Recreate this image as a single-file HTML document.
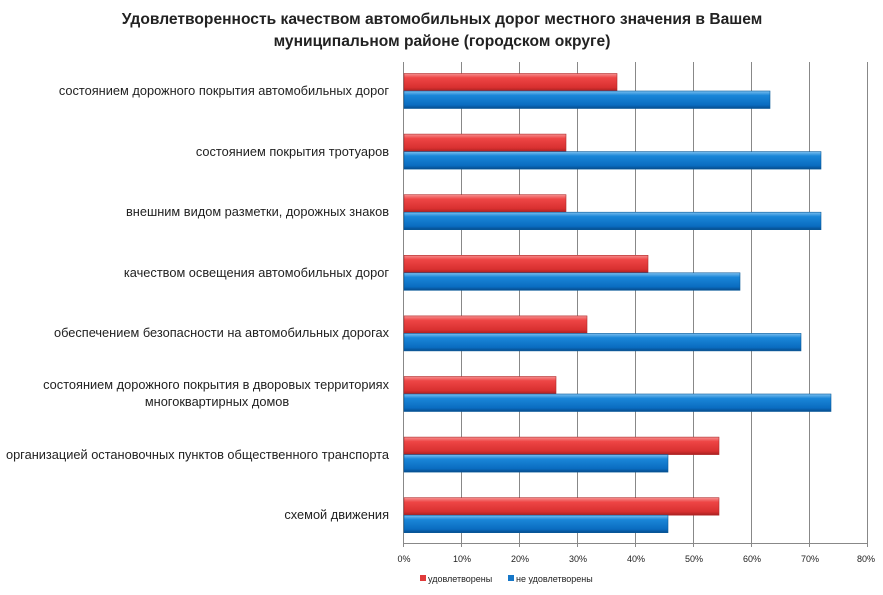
<!DOCTYPE html>
<html><head><meta charset="utf-8"><style>
body{margin:0;background:#fff;width:883px;height:590px;overflow:hidden;font-family:"Liberation Sans",sans-serif;}
</style></head><body>
<svg width="883" height="590" xmlns="http://www.w3.org/2000/svg" font-family="Liberation Sans, sans-serif">
<defs>
<linearGradient id="r" x1="0" y1="0" x2="0" y2="1"><stop offset="0" stop-color="#f59090"/><stop offset="0.25" stop-color="#ee4545"/><stop offset="0.8" stop-color="#d83030"/><stop offset="1" stop-color="#a82020"/></linearGradient>
<linearGradient id="b" x1="0" y1="0" x2="0" y2="1"><stop offset="0" stop-color="#7cc0f0"/><stop offset="0.25" stop-color="#1a86d8"/><stop offset="0.8" stop-color="#0a6cc0"/><stop offset="1" stop-color="#064c8c"/></linearGradient>
</defs>
<text x="442" y="24" text-anchor="middle" font-size="15.6" font-weight="bold" fill="#222">Удовлетворенность качеством автомобильных дорог местного значения в Вашем</text>
<text x="442" y="46" text-anchor="middle" font-size="15.6" font-weight="bold" fill="#222">муниципальном районе (городском округе)</text>
<g stroke="#888" stroke-width="1">
<line x1="403.5" y1="62" x2="403.5" y2="547"/>
<line x1="461.5" y1="62" x2="461.5" y2="547"/>
<line x1="519.5" y1="62" x2="519.5" y2="547"/>
<line x1="577.5" y1="62" x2="577.5" y2="547"/>
<line x1="635.5" y1="62" x2="635.5" y2="547"/>
<line x1="693.5" y1="62" x2="693.5" y2="547"/>
<line x1="751.5" y1="62" x2="751.5" y2="547"/>
<line x1="809.5" y1="62" x2="809.5" y2="547"/>
<line x1="867.5" y1="62" x2="867.5" y2="547"/>
<line x1="403" y1="543.5" x2="868" y2="543.5"/>
</g>
<g font-size="9" fill="#222" text-anchor="middle">
<text x="404" y="562">0%</text><text x="462" y="562">10%</text><text x="520" y="562">20%</text><text x="578" y="562">30%</text><text x="636" y="562">40%</text><text x="694" y="562">50%</text><text x="752" y="562">60%</text><text x="810" y="562">70%</text><text x="866" y="562">80%</text>
</g>
<g stroke-width="0.6">
<rect x="404" y="73.5" width="213" height="17.5" fill="url(#r)" stroke="#b02a2a"/><rect x="404" y="91" width="366" height="17.5" fill="url(#b)" stroke="#0a5a9a"/>
<rect x="404" y="134.1" width="162" height="17.5" fill="url(#r)" stroke="#b02a2a"/><rect x="404" y="151.6" width="417" height="17.5" fill="url(#b)" stroke="#0a5a9a"/>
<rect x="404" y="194.7" width="162" height="17.5" fill="url(#r)" stroke="#b02a2a"/><rect x="404" y="212.2" width="417" height="17.5" fill="url(#b)" stroke="#0a5a9a"/>
<rect x="404" y="255.3" width="244" height="17.5" fill="url(#r)" stroke="#b02a2a"/><rect x="404" y="272.8" width="336" height="17.5" fill="url(#b)" stroke="#0a5a9a"/>
<rect x="404" y="315.9" width="183" height="17.5" fill="url(#r)" stroke="#b02a2a"/><rect x="404" y="333.4" width="397" height="17.5" fill="url(#b)" stroke="#0a5a9a"/>
<rect x="404" y="376.5" width="152" height="17.5" fill="url(#r)" stroke="#b02a2a"/><rect x="404" y="394" width="427" height="17.5" fill="url(#b)" stroke="#0a5a9a"/>
<rect x="404" y="437.1" width="315" height="17.5" fill="url(#r)" stroke="#b02a2a"/><rect x="404" y="454.6" width="264" height="17.5" fill="url(#b)" stroke="#0a5a9a"/>
<rect x="404" y="497.7" width="315" height="17.5" fill="url(#r)" stroke="#b02a2a"/><rect x="404" y="515.2" width="264" height="17.5" fill="url(#b)" stroke="#0a5a9a"/>
</g>
<g font-size="12.8" fill="#222" text-anchor="end">
<text x="389" y="95">состоянием дорожного покрытия автомобильных дорог</text>
<text x="389" y="156">состоянием покрытия тротуаров</text>
<text x="389" y="216">внешним видом разметки, дорожных знаков</text>
<text x="389" y="277">качеством освещения автомобильных дорог</text>
<text x="389" y="337">обеспечением безопасности на автомобильных дорогах</text>
<text x="389" y="389">состоянием дорожного покрытия в дворовых территориях</text>
<text x="389" y="459">организацией остановочных пунктов общественного транспорта</text>
<text x="389" y="519">схемой движения</text>
</g>
<text x="217" y="406" text-anchor="middle" font-size="12.8" fill="#222">многоквартирных домов</text>
<rect x="420" y="575" width="6" height="6" fill="#e03a3a"/>
<text x="428" y="582" font-size="9" fill="#222">удовлетворены</text>
<rect x="508" y="575" width="6" height="6" fill="#1677c8"/>
<text x="516" y="582" font-size="9" fill="#222">не удовлетворены</text>
</svg>
</body></html>
